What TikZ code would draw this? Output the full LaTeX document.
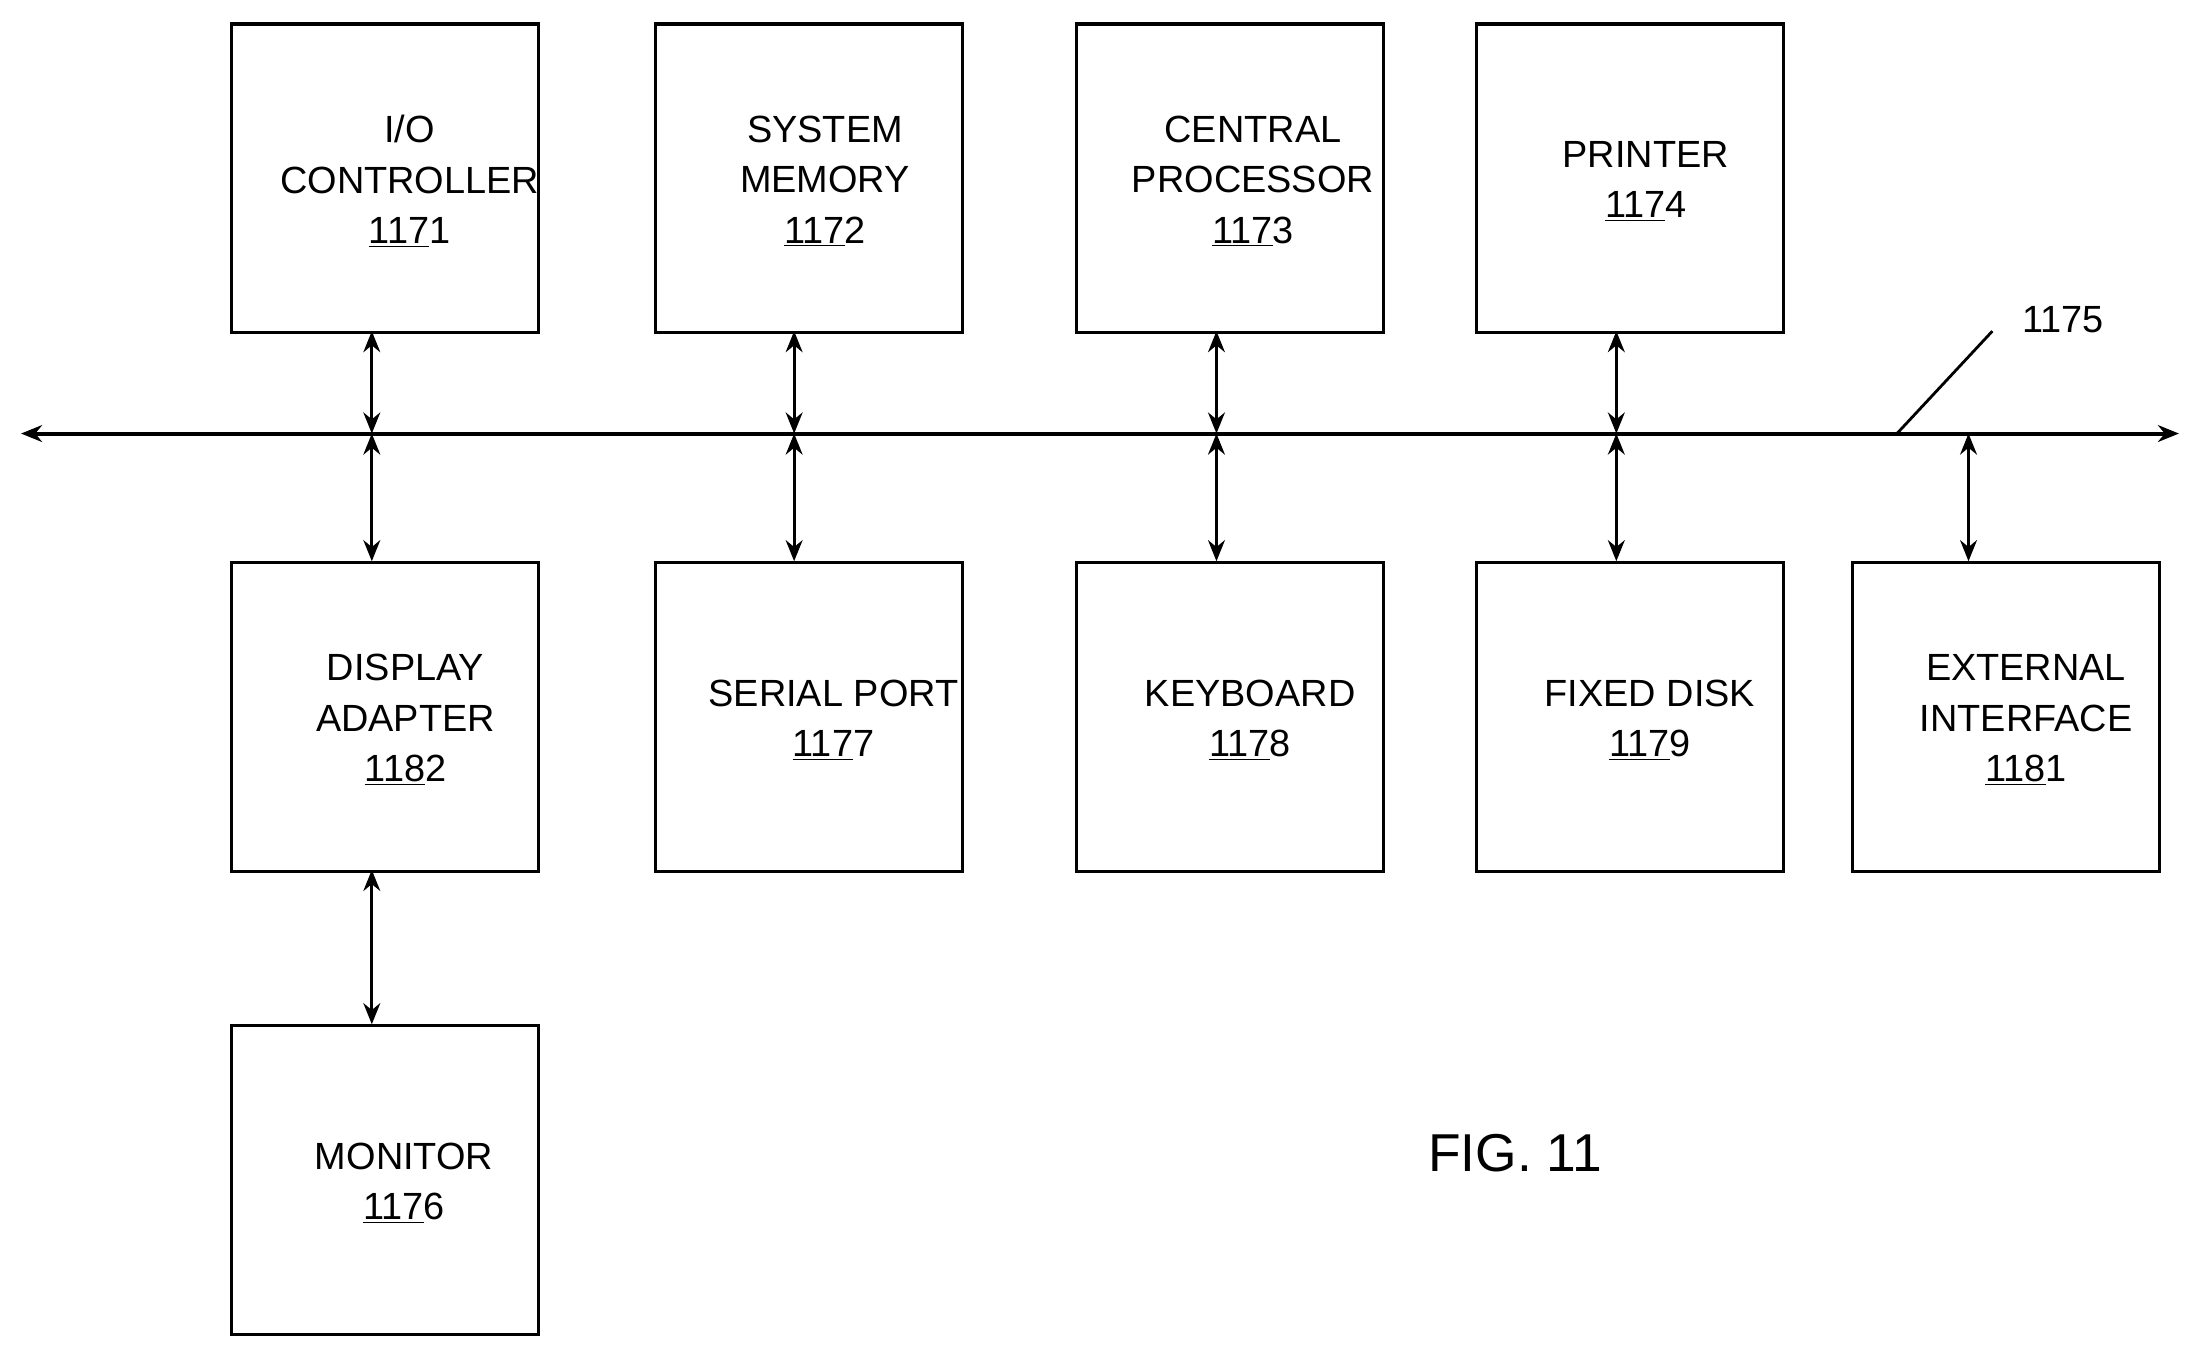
\documentclass[tikz,border=0pt]{standalone}
\usepackage{fontspec}
\setmainfont{Liberation Sans}
\usetikzlibrary{arrows.meta}
\begin{document}
\begin{tikzpicture}[x=1pt,y=-1pt,
  box/.style={draw,line width=2.2pt,minimum width=219pt,minimum height=220pt,anchor=north west,inner sep=0},
  lbl/.style={font=\fontsize{27}{36}\selectfont,align=center},
  arr/.style={line width=2.2pt,<->,>={Stealth[length=15pt,width=12pt]}}]
\useasboundingbox (0,0) rectangle (1568,966);
\node[box] (b1) at (164,16) {};
\node[box] (b2) at (466,16) {};
\node[box] (b3) at (766,16) {};
\node[box] (b4) at (1051,16) {};
\node[box] (c1) at (164,400) {};
\node[box] (c2) at (466,400) {};
\node[box] (c3) at (766,400) {};
\node[box] (c4) at (1051,400) {};
\node[box] (c5) at (1319,400) {};
\node[box] (m) at (164,730) {};
\node[lbl] at (292,129) {I/O\\CONTROLLER\\\underline{117}1};
\node[lbl] at (588,129) {SYSTEM\\MEMORY\\\underline{117}2};
\node[lbl] at (893,129) {CENTRAL\\PROCESSOR\\\underline{117}3};
\node[lbl] at (1173,129) {PRINTER\\\underline{117}4};
\node[lbl] at (289,513) {DISPLAY\\ADAPTER\\\underline{118}2};
\node[lbl] at (594,513) {SERIAL PORT\\\underline{117}7};
\node[lbl] at (891,513) {KEYBOARD\\\underline{117}8};
\node[lbl] at (1176,513) {FIXED DISK\\\underline{117}9};
\node[lbl] at (1444,513) {EXTERNAL\\INTERFACE\\\underline{118}1};
\node[lbl] at (288,843) {MONITOR\\\underline{117}6};
\coordinate (bl) at (15,309);
\coordinate (br) at (1553,309);
\draw[arr,line width=2.8pt] (bl) -- (br);
\foreach \x/\n in {265/1,566/2,867/3,1152/4}{
  \coordinate (t\n) at (\x,309);
  \draw[arr] (\x,236) -- (t\n);
  \draw[arr] (t\n) -- (\x,400);
}
\coordinate (t5) at (1403,309);
\draw[arr] (t5) -- (1403,400);
\draw[arr] (265,620) -- (265,730);
\node[lbl,anchor=west] (n1175) at (1438,228) {1175};
\coordinate (lk) at (1352,309);
\draw[line width=2pt] (1420,236) -- (lk);
\node[font=\fontsize{38}{44}\selectfont] (fig) at (1080,822) {FIG. 11};
\end{tikzpicture}
\end{document}
